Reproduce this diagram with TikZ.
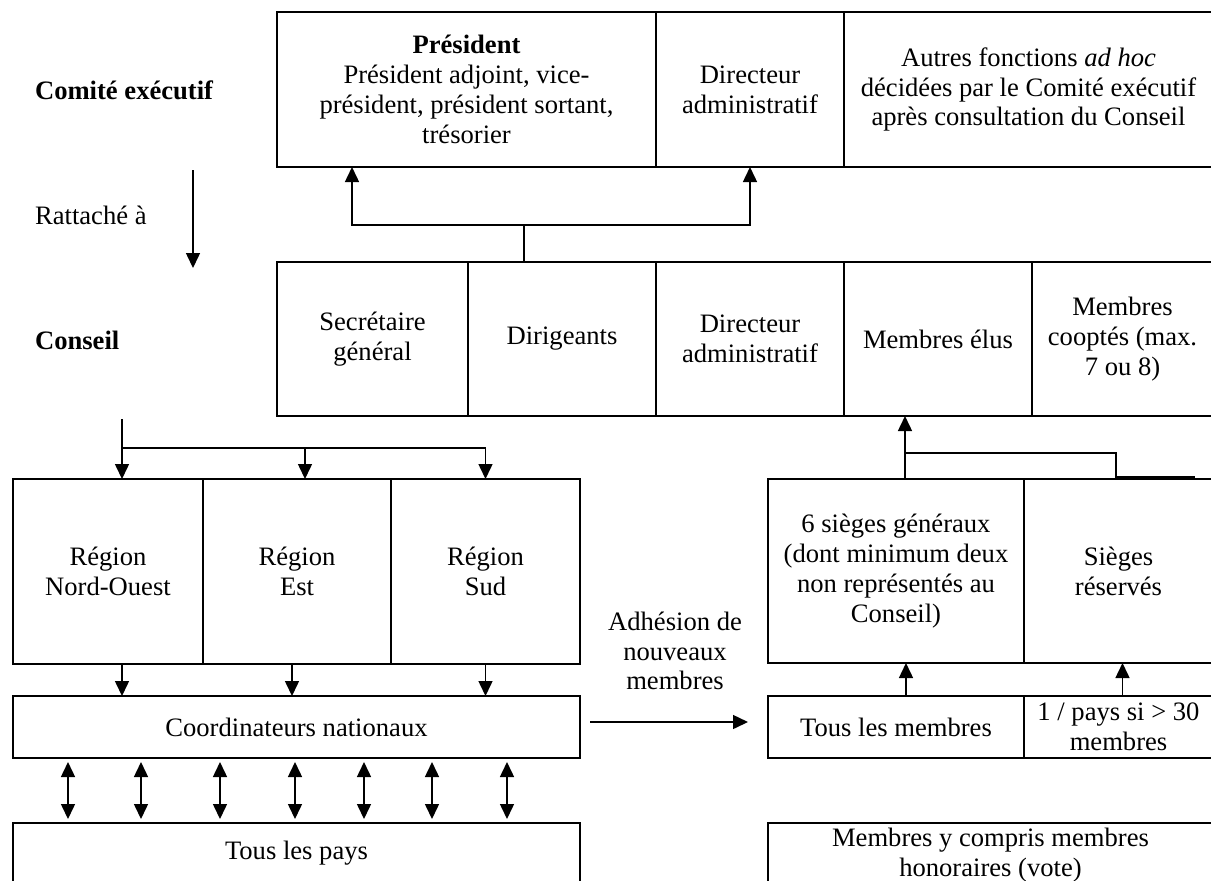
\documentclass[tikz,border=0pt]{standalone}
\usepackage{fontspec}
\setmainfont{Liberation Serif}
\usetikzlibrary{positioning,arrows.meta}

\begin{document}
\begin{tikzpicture}[x=0.5pt, y=-0.5pt, node distance=0pt,
    every node/.style={font=\fontsize{13.3}{14.9}\selectfont},
    cell/.style={draw, line width=0.9pt, outer sep=0pt, inner sep=1pt, align=center},
    lab/.style={anchor=west, align=left},
    link/.style={line width=0.75pt},
    arr/.style={link, -{Triangle[length=7.5pt,width=7pt]}},
    dbl/.style={link, {Triangle[length=7.5pt,width=7pt]}-{Triangle[length=7.5pt,width=7pt]}}]
        \useasboundingbox (0,0) rectangle (1211,880);
        \node[lab] (ce)   at (28,90)  {\textbf{Comité exécutif}};
        \node[lab] (ratt) at (28,215) {Rattaché à};
        \node[lab] (cons) at (28,340) {\textbf{Conseil}};
        \node[cell, minimum width=189.5pt, minimum height=77.5pt, anchor=north west] (pres) at (277,12)
            {\textbf{Président}\\Président adjoint, vice-\\président, président sortant,\\trésorier};
        \node[cell, minimum width=94pt, minimum height=77.5pt] (dirx) [right=of pres] {Directeur\\administratif};
        \node[cell, minimum width=184.5pt, minimum height=77.5pt] (autres) [right=of dirx]
            {Autres fonctions \emph{ad hoc}\\décidées par le Comité exécutif\\après consultation du Conseil};
        \node[cell, minimum width=95.5pt, minimum height=77pt, anchor=north west] (sg) at (277,262) {Secrétaire\\général};
        \node[cell, minimum width=94pt, minimum height=77pt] (dir)  [right=of sg]   {Dirigeants};
        \node[cell, minimum width=94pt, minimum height=77pt] (dira) [right=of dir]  {Directeur\\administratif};
        \node[cell, minimum width=94pt, minimum height=77pt] (elus) [right=of dira] {Membres élus};
        \node[cell, minimum width=90.5pt, minimum height=77pt] (coopt) [right=of elus] {Membres\\cooptés (max.\\7 ou 8)};
        \node[cell, minimum width=95pt, minimum height=92.5pt, anchor=north west] (nw) at (13,479) {Région\\Nord-Ouest};
        \node[cell, minimum width=94pt, minimum height=92.5pt] (est) [right=of nw]  {Région\\Est};
        \node[cell, minimum width=94.5pt, minimum height=92.5pt] (sud) [right=of est] {Région\\Sud};
        \node[cell, minimum width=283.5pt, minimum height=31pt, anchor=north west] (coord) at (13,696) {Coordinateurs nationaux};
        \node[cell, minimum width=283.5pt, minimum height=30pt, anchor=north west] (pays) at (13,823) {Tous les pays};
        \node[align=center] (adh) at (675,651) {Adhésion de\\nouveaux\\membres};
        \node[cell, minimum width=128pt, minimum height=92pt, anchor=north west] (gen) at (768,479)
            {6 sièges généraux\\(dont minimum deux\\non représentés au\\Conseil)};
        \node[cell, minimum width=94.5pt, minimum height=92pt] (res) [right=of gen] {Sièges\\réservés};
        \node[cell, minimum width=128pt, minimum height=31pt, anchor=north west] (tous) at (768,696) {Tous les membres};
        \node[cell, minimum width=94.5pt, minimum height=31pt] (unpays) [right=of tous] {1 / pays si > 30\\membres};
        \node[cell, minimum width=222.5pt, minimum height=32pt, anchor=north west] (honor) at (768,823)
            {Membres y compris membres\\honoraires (vote)};
        \coordinate (r1) at (193,170);
        \coordinate (r2) at (193,268);
        \draw[arr] (r1) -- (r2);
        \coordinate (c1) at (524,225);
        \draw[link] (c1) -- (c1 |- dir.north);
        \draw[arr] (c1) -| ([xshift=37.5pt]pres.south west);
        \draw[arr] (c1) -| (dirx.south);
        \coordinate (c2) at (122,419);
        \coordinate (c3) at (122,448);
        \draw[arr] (c2) -- (c2 |- nw.north);
        \draw[link] (c3) -- ([xshift=4pt]est.north |- c3);
        \draw[arr] ([xshift=4pt]est.north |- c3) -- ([xshift=4pt]est.north);
        \draw[arr] (c3) -| (sud.north);
        \draw[arr] ([xshift=7pt]nw.south) -- ([xshift=7pt]nw.south |- coord.north);
        \draw[arr] ([xshift=-2.5pt]est.south) -- ([xshift=-2.5pt]est.south |- coord.north);
        \draw[arr] (sud.south) -- (sud.south |- coord.north);
        \foreach \x in {68,141,220,295,364,432,507}
            \draw[dbl, shorten >=2pt, shorten <=2pt] (\x,0 |- coord.south) -- (\x,0 |- pays.north);
        \draw[arr] ([xshift=5pt,yshift=2.5pt]coord.east) -- ([xshift=-10pt,yshift=2.5pt]tous.west);
        \draw[arr] ([xshift=5pt]tous.north) -- ([xshift=5pt]gen.south);
        \draw[arr] ([xshift=2pt]unpays.north) -- ([xshift=2pt]res.south);
        \coordinate (c4) at (905,453);
        \coordinate (c5) at (1116,477);
        \coordinate (c6) at (1195,477);
        \draw[arr] (c4 |- gen.north) -- (c4 |- elus.south);
        \draw[link] (c4) -| (c5) -- (c6);
\end{tikzpicture}
\end{document}
